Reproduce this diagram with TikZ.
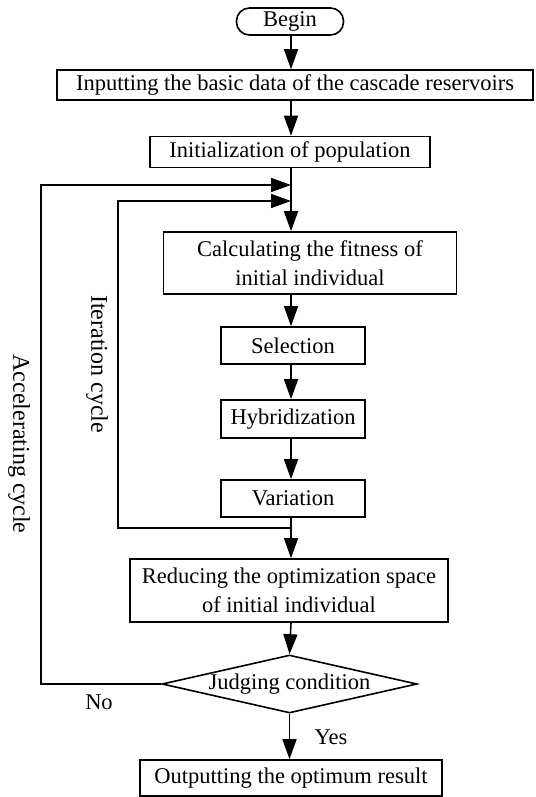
\documentclass[tikz,border=0pt]{standalone}
\usepackage{fontspec}
\setmainfont{Liberation Serif}
\usetikzlibrary{arrows.meta,shapes.geometric}
\begin{document}
\begin{tikzpicture}[x=1pt,y=-1pt,
  every node/.style={font=\fontsize{22.5}{29}\selectfont, inner sep=0pt},
  box/.style={draw, line width=1.6pt, align=center},
  conn/.style={line width=1.6pt},
  arr/.style={conn, -{Triangle[length=20pt,width=14pt]}}]
\useasboundingbox (0,0) rectangle (535,797);
\node[box, rounded corners=13pt, minimum width=107pt, minimum height=27pt] (begin) at (290,21.5) {Begin};
\node[box, minimum width=476pt, minimum height=30pt] (input) at (295,85) {Inputting the basic data of the cascade reservoirs};
\node[box, minimum width=280pt, minimum height=31pt] (init) at (290,152) {Initialization of population};
\node[box, minimum width=293pt, minimum height=62pt] (calc) at (310,263) {Calculating the fitness of\\initial individual};
\node[box, minimum width=144pt, minimum height=37pt] (sel) at (293,345.5) {Selection};
\node[box, minimum width=144pt, minimum height=38pt] (hyb) at (293,419) {Hybridization};
\node[box, minimum width=144pt, minimum height=37pt] (var) at (293,498.5) {Variation};
\node[box, minimum width=318pt, minimum height=63pt] (red) at (289,590.5) {Reducing the optimization space\\of initial individual};
\node[draw, line width=1.6pt, diamond, aspect=4.4, minimum width=255pt, minimum height=58pt] (judge) at (289.5,684) {Judging condition};
\node[box, minimum width=302pt, minimum height=36pt] (out) at (291,778) {Outputting the optimum result};
\node (no) at (99,702) {No};
\node (yes) at (331,737) {Yes};
\node[rotate=-90, font=\fontsize{24}{29}\selectfont] (acc) at (19,444) {Accelerating cycle};
\node[rotate=-90, font=\fontsize{24}{29}\selectfont] (iter) at (97,364) {Iteration cycle};
\coordinate (j1) at (291,185);
\coordinate (j2) at (291,201);
\coordinate (j3) at (291,528);
\coordinate (a1) at (41,684);
\coordinate (a2) at (41,185);
\coordinate (i1) at (118,528);
\coordinate (i2) at (118,201);
\draw[arr] (begin.south -| 291,0) -- (input.north -| 291,0);
\draw[arr] (input.south -| 291,0) -- (init.north -| 291,0);
\draw[arr] (init.south -| 291,0) -- (calc.north -| 291,0);
\draw[arr] (calc.south -| 291,0) -- (sel.north -| 291,0);
\draw[arr] (sel.south -| 291,0) -- (hyb.north -| 291,0);
\draw[arr] (hyb.south -| 291,0) -- (var.north -| 291,0);
\draw[arr] (var.south -| 291,0) -- (red.north -| 291,0);
\draw[arr] (red.south -| 291,0) -- (judge.north);
\draw[arr] (judge.south) -- (out.north -| judge.south);
\draw[arr] (judge.west) -- (a1) -- (a2) -- (j1);
\draw[arr] (j3) -- (i1) -- (i2) -- (j2);
\end{tikzpicture}
\end{document}
